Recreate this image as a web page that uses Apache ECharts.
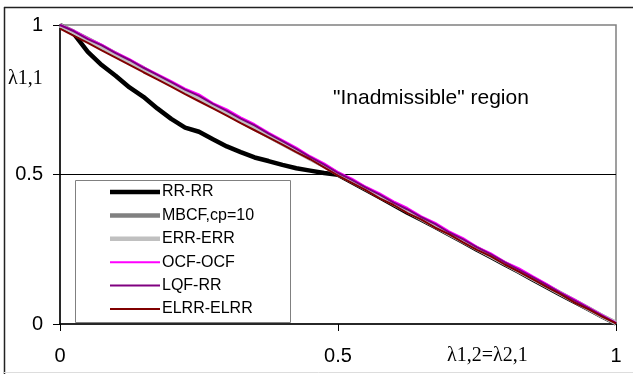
<!DOCTYPE html>
<html>
<head>
<meta charset="utf-8">
<script src="https://cdn.jsdelivr.net/npm/echarts@6/dist/echarts.min.js"></script>
<style>html,body{margin:0;padding:0;background:#fff}#c{width:633px;height:374px}</style>
</head>
<body>
<div id="c"></div>
<script>
var xValues = [0,0.025,0.05,0.075,0.1,0.125,0.15,0.175,0.2,0.225,0.25,0.275,0.3,0.325,0.35,0.375,0.4,0.425,0.45,0.475,0.5,0.525,0.55,0.575,0.6,0.625,0.65,0.675,0.7,0.725,0.75,0.775,0.8,0.825,0.85,0.875,0.9,0.925,0.95,0.975,1];
var rrRR = [1.000,0.970,0.910,0.866,0.830,0.791,0.760,0.721,0.686,0.657,0.643,0.618,0.594,0.575,0.557,0.545,0.532,0.521,0.513,0.505,0.499,0.474,0.449,0.424,0.398,0.372,0.349,0.324,0.299,0.274,0.248,0.224,0.199,0.175,0.149,0.124,0.099,0.074,0.050,0.025,0.002];
var mbcf = [1.000,0.977,0.953,0.929,0.904,0.879,0.855,0.829,0.805,0.779,0.755,0.729,0.705,0.679,0.655,0.629,0.604,0.579,0.554,0.529,0.503,0.478,0.453,0.428,0.403,0.378,0.353,0.328,0.303,0.278,0.253,0.228,0.203,0.178,0.153,0.128,0.103,0.078,0.053,0.027,0.003];
var errERR = [0.998,0.975,0.951,0.927,0.902,0.878,0.853,0.828,0.803,0.778,0.753,0.728,0.703,0.678,0.653,0.628,0.603,0.578,0.553,0.528,0.502,0.477,0.452,0.427,0.402,0.377,0.352,0.327,0.302,0.277,0.252,0.227,0.202,0.177,0.152,0.127,0.102,0.077,0.052,0.027,0.003];
var ocfOCF = [1.000,0.981,0.955,0.934,0.908,0.886,0.859,0.836,0.812,0.787,0.768,0.739,0.718,0.691,0.668,0.640,0.615,0.590,0.561,0.537,0.508,0.486,0.459,0.437,0.410,0.388,0.360,0.338,0.310,0.287,0.258,0.236,0.208,0.187,0.160,0.134,0.106,0.082,0.056,0.030,0.004];
var lqfRR = [1.000,0.979,0.953,0.932,0.906,0.883,0.857,0.833,0.809,0.784,0.763,0.736,0.713,0.687,0.664,0.637,0.612,0.586,0.558,0.533,0.505,0.482,0.456,0.433,0.406,0.383,0.357,0.334,0.306,0.283,0.256,0.233,0.206,0.182,0.157,0.131,0.104,0.079,0.054,0.028,0.003];
var elrr = [0.988,0.964,0.940,0.915,0.891,0.867,0.842,0.818,0.794,0.769,0.745,0.721,0.697,0.672,0.648,0.624,0.600,0.575,0.551,0.524,0.496,0.472,0.448,0.420,0.398,0.371,0.349,0.322,0.300,0.273,0.248,0.226,0.199,0.175,0.150,0.124,0.100,0.072,0.050,0.025,0.002];
var seriesNames = ['RR-RR','MBCF,cp=10','ERR-ERR','OCF-OCF','LQF-RR','ELRR-ELRR'];
var axisTicks = [0,0.5,1];
var annotation = '"Inadmissible" region';
var yName = 'λ1,1';
var xName = 'λ1,2=λ2,1';

function pairs(ys){ return xValues.map(function(x,i){ return [x, ys[i]]; }); }
var styles = [
  {color:'#000000', width:4.5},
  {color:'#808080', width:4.5},
  {color:'#c0c0c0', width:4.5},
  {color:'#ff00ff', width:2},
  {color:'#800080', width:2},
  {color:'#800000', width:2}
];
var allData = [rrRR, mbcf, errERR, ocfOCF, lqfRR, elrr];
var series = allData.map(function(d,i){
  var s = {
    name: seriesNames[i], type:'line', data: pairs(d), symbol:'none', smooth:false,
    lineStyle:{color:styles[i].color, width:styles[i].width}, itemStyle:{color:styles[i].color},
    z: 3 + i
  };
  if(i===0){
    s.markLine = {silent:true, symbol:'none', label:{show:false}, lineStyle:{color:'#000', width:1, type:'solid'}, data:[{yAxis:0.5}], z:1};
  }
  return s;
});
var legendData = seriesNames.map(function(n,i){
  var h = styles[i].width > 3 ? 4.5 : 2;
  return {name:n, icon:'path://M0,0H50V' + h + 'H0Z'};
});

var chart = echarts.init(document.getElementById('c'), null, {renderer:'canvas'});
chart.setOption({
  animation:false,
  backgroundColor:'#fff',
  grid:{left:60, right:17, top:25, bottom:50, show:true, borderColor:'#808080', borderWidth:1.5, backgroundColor:'transparent'},
  xAxis:{type:'value', min:0, max:1, interval:0.5,
    axisLine:{show:true, onZero:false, lineStyle:{color:'#000', width:1.5}},
    axisTick:{show:true, length:7, lineStyle:{color:'#000'}},
    splitLine:{show:false},
    axisLabel:{color:'#000', fontSize:20, fontFamily:'Liberation Sans', margin:22, formatter:function(v){return String(v);}}
  },
  yAxis:{type:'value', min:0, max:1, interval:0.5,
    axisLine:{show:true, onZero:false, lineStyle:{color:'#000', width:1.5}},
    axisTick:{show:true, length:7, lineStyle:{color:'#000'}},
    splitLine:{show:false},
    axisLabel:{color:'#000', fontSize:20, fontFamily:'Liberation Sans', margin:17, formatter:function(v){return String(v);}}
  },
  legend:{orient:'vertical', left:110, top:184, padding:0, itemWidth:50, itemHeight:16, itemGap:7.4,
    data: legendData,
    textStyle:{color:'#000', fontSize:16, fontFamily:'Liberation Sans', lineHeight:16, padding:[0,0,0,-3]}
  },
  graphic:[
    {type:'line', shape:{x1:4.5,y1:7,x2:4.5,y2:374}, style:{stroke:'#222', lineWidth:1.5}, silent:true},
    {type:'line', shape:{x1:4,y1:7.5,x2:633,y2:7.5}, style:{stroke:'#222', lineWidth:1.5}, silent:true},
    {type:'line', shape:{x1:4,y1:372.5,x2:633,y2:372.5}, style:{stroke:'#ddd', lineWidth:1}, silent:true},
    {type:'rect', shape:{x:75.5,y:180.5,width:215,height:142}, style:{fill:'#fff', stroke:'#808080', lineWidth:1}, z:0, silent:true},
    {type:'text', left:333, top:88, style:{text:annotation, fontSize:21, fontFamily:'Liberation Sans', fill:'#000'}, silent:true},
    {type:'text', left:8, top:69, style:{text:yName, fontSize:20, fontFamily:'Liberation Serif', fill:'#000'}, silent:true},
    {type:'text', left:447, top:346, style:{text:xName, fontSize:20, fontFamily:'Liberation Serif', fill:'#000'}, silent:true}
  ],
  series: series
});
</script>
</body>
</html>
